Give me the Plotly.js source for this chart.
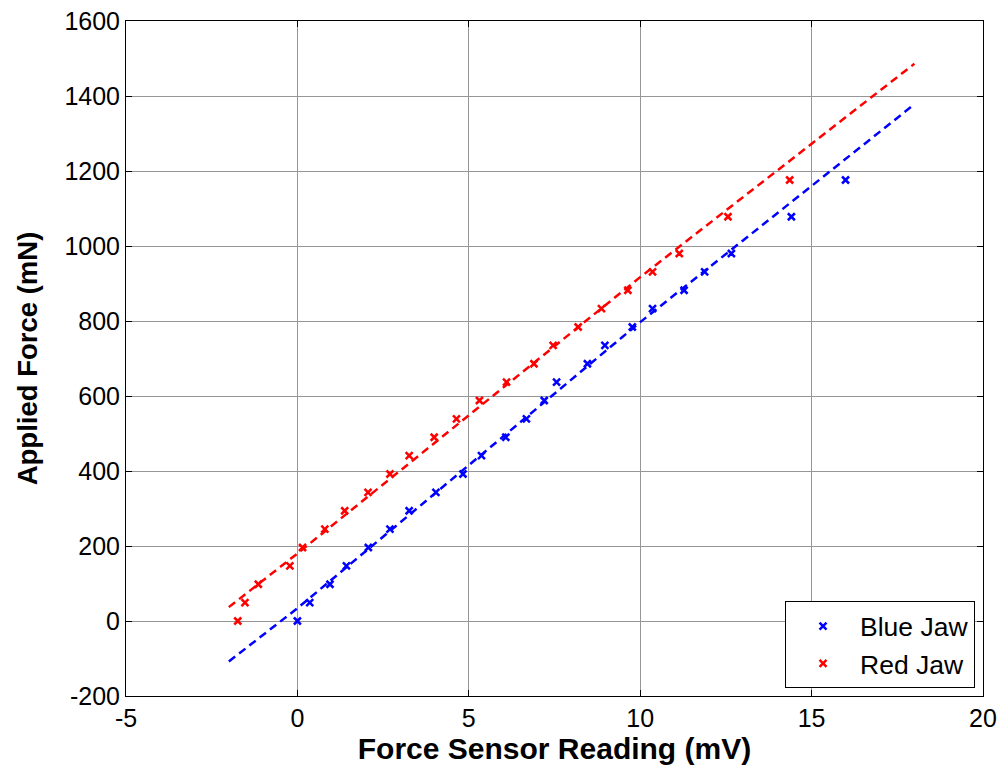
<!DOCTYPE html>
<html>
<head>
<meta charset="utf-8">
<script src="https://cdn.plot.ly/plotly-3.0.1.min.js"></script>
<style>html,body{margin:0;padding:0;background:#fff}#chart{width:1005px;height:772px}</style>
</head>
<body>
<div id="chart"></div>
<script>
// Measured points (Force Sensor Reading mV, Applied Force mN)
const blueX = [0.00, 0.36, 0.95, 1.43, 2.07, 2.70, 3.26, 4.04, 4.83, 5.37, 6.08, 6.68, 7.20, 7.56, 8.46, 8.97, 9.77, 10.36, 11.28, 11.88, 12.66, 14.41, 15.99];
const blueY = [0, 49, 98, 147, 196, 245, 294, 343, 392, 441, 490, 539, 588, 637, 686, 735, 784, 833, 882, 931, 980, 1078, 1176];
const redX  = [-1.74, -1.53, -1.14, -0.22, 0.15, 0.80, 1.38, 2.06, 2.70, 3.26, 3.99, 4.64, 5.31, 6.10, 6.90, 7.46, 8.19, 8.87, 9.64, 10.36, 11.14, 12.56, 14.36];
const redY  = [0, 49, 98, 147, 196, 245, 294, 343, 392, 441, 490, 539, 588, 637, 686, 735, 784, 833, 882, 931, 980, 1078, 1176];
// Fitted (dashed) curves
const blueFitX = [-2.0, 0, 10, 18];
const blueFitY = [-108, 34, 797, 1378];
const redFitX  = [-2.0, 0, 10, 18];
const redFitY  = [37, 180, 917, 1486];

const xTicks = [-5, 0, 5, 10, 15, 20];
const yTicks = [-200, 0, 200, 400, 600, 800, 1000, 1200, 1400, 1600];

const FONT = 'Liberation Sans, Arial, sans-serif';

const traces = [
  {x: blueX, y: blueY, type: 'scatter', mode: 'markers', name: 'Blue Jaw',
   marker: {symbol: 'x-thin', size: 7, color: '#0000ff', line: {color: '#0000ff', width: 2.5}}},
  {x: redX, y: redY, type: 'scatter', mode: 'markers', name: 'Red Jaw',
   marker: {symbol: 'x-thin', size: 7, color: '#ff0000', line: {color: '#ff0000', width: 2.5}}},
  {x: blueFitX, y: blueFitY, type: 'scatter', mode: 'lines', showlegend: false,
   line: {color: '#0000ff', width: 2.5, dash: '8px,5px'}},
  {x: redFitX, y: redFitY, type: 'scatter', mode: 'lines', showlegend: false,
   line: {color: '#ff0000', width: 2.5, dash: '8px,5px'}}
];

const axisCommon = {
  showgrid: true, gridcolor: '#969696', gridwidth: 1,
  zeroline: false, showline: true, linecolor: '#000', linewidth: 1,
  mirror: 'ticks', ticks: 'inside', ticklen: 6, tickcolor: '#000',
  tickfont: {family: FONT, size: 25, color: '#000'}
};

const layout = {
  width: 1005, height: 772,
  margin: {l: 126, r: 22, t: 21, b: 76},
  paper_bgcolor: '#fff', plot_bgcolor: '#fff',
  font: {family: FONT, color: '#000'},
  xaxis: Object.assign({}, axisCommon, {
    range: [-5, 20], tickvals: xTicks, ticktext: xTicks.map(String),
    title: {text: '<b>Force Sensor Reading (mV)</b>', font: {family: FONT, size: 30, color: '#000'}, standoff: 2}
  }),
  yaxis: Object.assign({}, axisCommon, {
    range: [-200, 1600], tickvals: yTicks, ticktext: yTicks.map(String),
    title: {text: '<b>Applied Force (mN)</b>', font: {family: FONT, size: 27.5, color: '#000'}, standoff: 18}
  }),
  showlegend: true,
  legend: {
    x: 0.9907, y: 0.0114, xanchor: 'right', yanchor: 'bottom',
    bgcolor: '#fff', bordercolor: '#000', borderwidth: 1,
    font: {family: FONT, size: 26.5, color: '#000'},
    itemwidth: 64, tracegroupgap: 0
  }
};

Plotly.newPlot('chart', traces, layout, {displayModeBar: false, staticPlot: true});
</script>
</body>
</html>
